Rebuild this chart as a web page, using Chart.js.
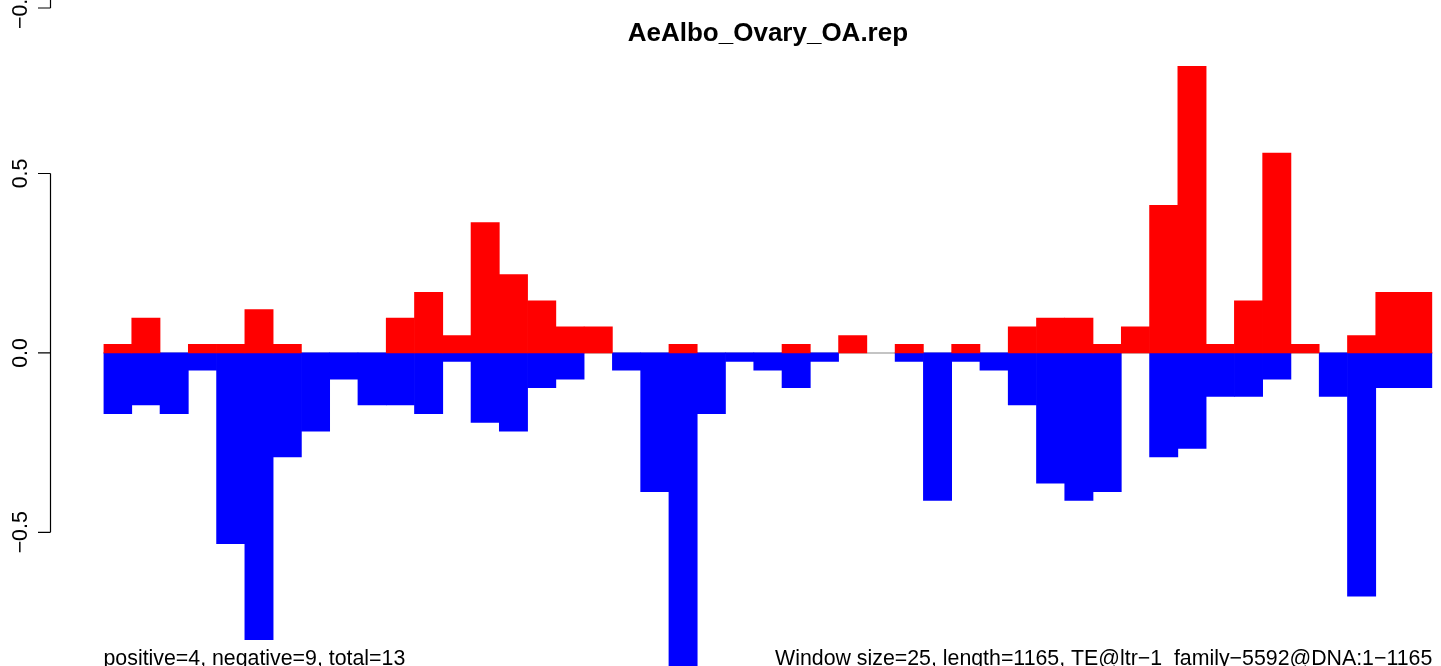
<!DOCTYPE html>
<html>
<head>
<meta charset="utf-8">
<script src="https://cdn.jsdelivr.net/npm/chart.js@4/dist/chart.umd.min.js"></script>
<style>
html,body{margin:0;padding:0;background:#fff;overflow:hidden;}
#c{display:block;}
</style>
</head>
<body>
<canvas id="c" width="1441" height="666"></canvas>
<script>
// Window start positions (window size 25, length 1165)
const windows = ["1","26","51","76","101","126","151","176","201","226","251","276","301","326","351","376","401","426","451","476","501","526","551","576","601","626","651","676","701","726","751","776","801","826","851","876","901","926","951","976","1001","1026","1051","1076","1101","1126","1151"];
const positiveValues = [0.024,0.097,0,0.024,0.024,0.121,0.024,0,0,0,0.097,0.169,0.048,0.363,0.218,0.145,0.073,0.073,0,0,0.024,0,0,0,0.024,0,0.048,0,0.024,0,0.024,0,0.073,0.097,0.097,0.024,0.073,0.411,0.799,0.024,0.145,0.557,0.024,0,0.048,0.169,0.169];
const negativeValues = [-0.169,-0.145,-0.169,-0.048,-0.532,-0.799,-0.290,-0.218,-0.073,-0.145,-0.145,-0.169,-0.024,-0.194,-0.218,-0.097,-0.073,0,-0.048,-0.387,-0.920,-0.169,-0.024,-0.048,-0.097,-0.024,0,0,-0.024,-0.411,-0.024,-0.048,-0.145,-0.363,-0.411,-0.387,0,-0.290,-0.266,-0.121,-0.121,-0.073,0,-0.121,-0.678,-0.097,-0.097];
const yTicks = [-0.5, 0, 0.5];
const yTickLabels = ["\u22120.5", "0.0", "0.5"];
const titleText = "AeAlbo_Ovary_OA.rep";
const leftNote = "positive=4, negative=9, total=13";
const rightNote = "Window size=25, length=1165, TE@ltr\u22121_family\u22125592@DNA:1\u22121165";
const upperPanelLabel = "\u22120.5";

const FONT = '"Liberation Sans", Arial, Helvetica, sans-serif';

const decor = {
  id: 'decor',
  beforeDatasetsDraw(chart) {
    const ctx = chart.ctx, ca = chart.chartArea, y = chart.scales.y;
    const y0 = y.getPixelForValue(0);
    ctx.save();
    ctx.strokeStyle = '#b0b0b0';
    ctx.lineWidth = 1.5;
    ctx.beginPath();
    ctx.moveTo(ca.left, y0);
    ctx.lineTo(ca.right, y0);
    ctx.stroke();
    ctx.restore();
  },
  afterDraw(chart) {
    const ctx = chart.ctx, ca = chart.chartArea, y = chart.scales.y;
    const axisX = 50.5, tickLeft = 38, labelX = 27;
    ctx.save();
    ctx.strokeStyle = '#000';
    ctx.fillStyle = '#000';
    ctx.lineWidth = 1.2;
    const top = y.getPixelForValue(yTicks[yTicks.length - 1]);
    const bot = y.getPixelForValue(yTicks[0]);
    ctx.beginPath();
    ctx.moveTo(axisX, top);
    ctx.lineTo(axisX, bot);
    yTicks.forEach(v => {
      const p = y.getPixelForValue(v);
      ctx.moveTo(tickLeft, p);
      ctx.lineTo(axisX, p);
    });
    // fragment of the panel above (its bottom tick)
    ctx.moveTo(axisX, 0);
    ctx.lineTo(axisX, 8);
    ctx.moveTo(tickLeft, 8);
    ctx.lineTo(axisX, 8);
    ctx.stroke();

    ctx.font = '21.33px ' + FONT;
    ctx.textAlign = 'center';
    ctx.textBaseline = 'alphabetic';
    yTicks.forEach((v, i) => {
      const p = y.getPixelForValue(v);
      ctx.save();
      ctx.translate(labelX, p);
      ctx.rotate(-Math.PI / 2);
      ctx.fillText(yTickLabels[i], 0, 0);
      ctx.restore();
    });
    ctx.save();
    ctx.translate(labelX, 8);
    ctx.rotate(-Math.PI / 2);
    ctx.fillText(upperPanelLabel, 0, 0);
    ctx.restore();

    ctx.font = 'bold 26px ' + FONT;
    ctx.textAlign = 'center';
    ctx.fillText(titleText, (ca.left + ca.right) / 2, 41);

    ctx.font = '21.33px ' + FONT;
    ctx.textAlign = 'left';
    ctx.fillText(leftNote, ca.left, 665);
    ctx.textAlign = 'right';
    ctx.fillText(rightNote, ca.right, 665);
    ctx.restore();
  }
};

const fillFor = color => c => (c.raw === 0 ? 'rgba(0,0,0,0)' : color);

new Chart(document.getElementById('c'), {
  type: 'bar',
  data: {
    labels: windows,
    datasets: [
      { label: 'positive', data: positiveValues, backgroundColor: fillFor('#FF0000'), borderWidth: 0, barPercentage: 1, categoryPercentage: 1, grouped: false },
      { label: 'negative', data: negativeValues, backgroundColor: fillFor('#0000FF'), borderWidth: 0, barPercentage: 1, categoryPercentage: 1, grouped: false }
    ]
  },
  options: {
    responsive: false,
    animation: false,
    devicePixelRatio: 1,
    layout: { padding: { left: 103.5, right: 8.7, top: 0, bottom: 0 } },
    plugins: { legend: { display: false }, tooltip: { enabled: false }, title: { display: false } },
    scales: {
      x: { type: 'category', offset: true, display: false, grid: { display: false } },
      y: { min: -0.8726, max: 0.9836, display: false, grid: { display: false } }
    }
  },
  plugins: [decor]
});
</script>
</body>
</html>
